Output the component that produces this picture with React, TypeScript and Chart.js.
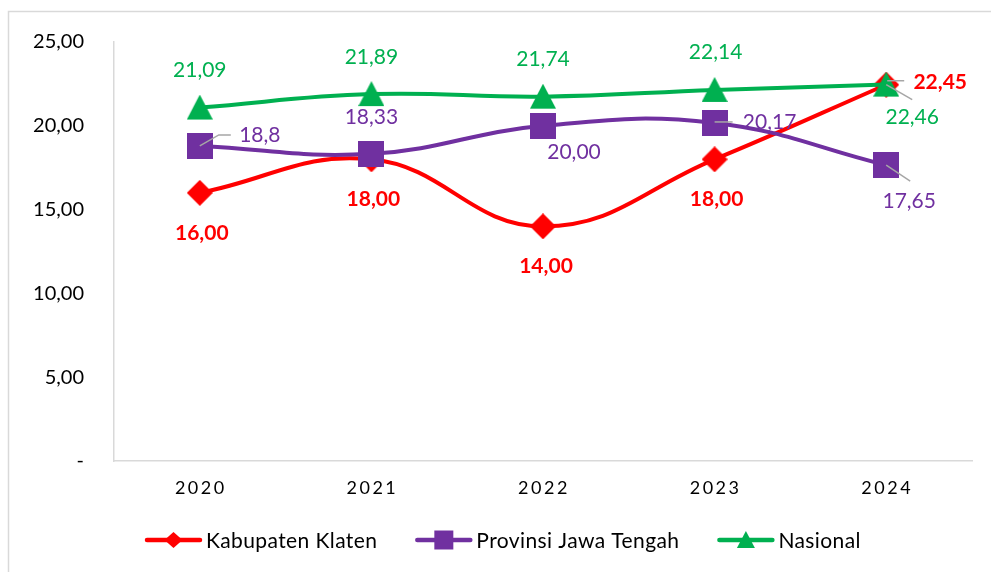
import React, { useEffect, useRef } from 'react';
import { Chart, registerables } from 'chart.js';
Chart.register(...registerables);

// ---------- data ----------
const categories = ['2020', '2021', '2022', '2023', '2024'];
const klaten = [16.0, 18.0, 14.0, 18.0, 22.45];
const jateng = [18.8, 18.33, 20.0, 20.17, 17.65];
const nasional = [21.09, 21.89, 21.74, 22.14, 22.46];
const klatenLabels = ['16,00', '18,00', '14,00', '18,00', '22,45'];
const jatengLabels = ['18,8', '18,33', '20,00', '20,17', '17,65'];
const nasionalLabels = ['21,09', '21,89', '21,74', '22,14', '22,46'];
const yTickLabels = ['-', '5,00', '10,00', '15,00', '20,00', '25,00'];
const seriesNames = ['Kabupaten Klaten', 'Provinsi Jawa Tengah', 'Nasional'];

// ---------- label placement (pixel offsets from each point) ----------
const klatenLabelOffsets = [[2, 40], [2, 40], [3, 40], [2, 40], [54, -3]];
const jatengLabelOffsets = [[60, -11], [0, -37], [31, 26], [55, -1], [23, 36]];
const nasionalLabelOffsets = [[0, -37], [0, -37], [0, -37], [1, -38], [26, 33]];
const klatenLeaders: (number[][] | null)[] = [null, null, null, null, [[1, -4], [18, -4]]];
const jatengLeaders: (number[][] | null)[] = [[[0, 0], [19, -11], [31, -11]], null, null, [[0, -1], [6, -1], [18, -1]], [[0, 0], [24, 16]]];
const nasionalLeaders: (number[][] | null)[] = [null, null, null, null, [[0, 0], [26, 15]]];

const RED = '#FF0000';
const PURPLE = '#7030A0';
const GREEN = '#00B050';
const FONT = 'Lato, "Noto Sans", sans-serif';

function makeMarker(kind: string, color: string, size: number): HTMLCanvasElement {
  const c = document.createElement('canvas');
  c.width = size;
  c.height = size;
  const g = c.getContext('2d')!;
  g.fillStyle = color;
  const m = size / 2;
  g.beginPath();
  if (kind === 'diamond') {
    g.moveTo(m, 0);
    g.lineTo(size, m);
    g.lineTo(m, size);
    g.lineTo(0, m);
  } else if (kind === 'square') {
    g.rect(0, 0, size, size);
  } else {
    g.moveTo(m, 0);
    g.lineTo(size, size - 1);
    g.lineTo(0, size - 1);
  }
  g.closePath();
  g.fill();
  return c;
}

function drawLegendMarker(ctx: CanvasRenderingContext2D, kind: string, color: string, x: number, y: number) {
  ctx.fillStyle = color;
  ctx.beginPath();
  if (kind === 'diamond') {
    ctx.moveTo(x, y - 8);
    ctx.lineTo(x + 9, y);
    ctx.lineTo(x, y + 8);
    ctx.lineTo(x - 9, y);
  } else if (kind === 'square') {
    const r = 9.5;
    ctx.rect(x - r, y - r, 2 * r, 2 * r);
  } else {
    ctx.moveTo(x, y - 9);
    ctx.lineTo(x + 9, y + 8);
    ctx.lineTo(x - 9, y + 8);
  }
  ctx.closePath();
  ctx.fill();
}

const seriesInfo = [
  { kind: 'diamond', color: RED, bold: true, labels: klatenLabels, offsets: klatenLabelOffsets, leaders: klatenLeaders },
  { kind: 'square', color: PURPLE, bold: false, labels: jatengLabels, offsets: jatengLabelOffsets, leaders: jatengLeaders },
  { kind: 'triangle', color: GREEN, bold: false, labels: nasionalLabels, offsets: nasionalLabelOffsets, leaders: nasionalLeaders },
];

const customPlugin = {
  id: 'customDraw',
  beforeDraw(chart: any) {
    const ctx = chart.ctx as CanvasRenderingContext2D;
    ctx.save();
    ctx.fillStyle = '#ffffff';
    ctx.fillRect(0, 0, chart.width, chart.height);
    ctx.strokeStyle = '#d9d9d9';
    ctx.lineWidth = 1.5;
    ctx.beginPath();
    ctx.moveTo(8.5, chart.height + 2);
    ctx.lineTo(8.5, 11.5);
    ctx.lineTo(chart.width + 2, 11.5);
    ctx.stroke();
    ctx.restore();
  },
  afterDatasetsDraw(chart: any) {
    const ctx = chart.ctx as CanvasRenderingContext2D;
    ctx.save();
    // leader lines
    ctx.strokeStyle = '#A6A6A6';
    ctx.lineWidth = 1.5;
    seriesInfo.forEach((s, di) => {
      const meta = chart.getDatasetMeta(di);
      meta.data.forEach((pt: any, i: number) => {
        const L = s.leaders[i];
        if (!L) return;
        ctx.beginPath();
        L.forEach((p, k) => {
          if (k === 0) ctx.moveTo(pt.x + p[0], pt.y + p[1]);
          else ctx.lineTo(pt.x + p[0], pt.y + p[1]);
        });
        ctx.stroke();
      });
    });
    // labels
    ctx.textAlign = 'center';
    ctx.textBaseline = 'middle';
    seriesInfo.forEach((s, di) => {
      const meta = chart.getDatasetMeta(di);
      ctx.fillStyle = s.color;
      ctx.font = `${s.bold ? 'bold ' : ''}21px ${FONT}`;
      meta.data.forEach((pt: any, i: number) => {
        const o = s.offsets[i];
        ctx.fillText(s.labels[i], pt.x + o[0], pt.y + o[1]);
      });
    });
    ctx.restore();
  },
  afterDraw(chart: any) {
    const ctx = chart.ctx as CanvasRenderingContext2D;
    const xs = chart.scales.x;
    ctx.save();
    // x tick labels (spaced)
    ctx.fillStyle = '#000000';
    ctx.font = `18px ${FONT}`;
    (ctx as any).letterSpacing = '2.5px';
    ctx.textAlign = 'center';
    ctx.textBaseline = 'middle';
    categories.forEach((c, i) => {
      ctx.fillText(c, xs.getPixelForValue(i) + 1, 488);
    });
    // legend
    const ly = 540;
    let x = 147;
    ctx.font = `21px ${FONT}`;
    (ctx as any).letterSpacing = '0.4px';
    ctx.textAlign = 'left';
    seriesInfo.forEach((s, i) => {
      ctx.strokeStyle = s.color;
      ctx.lineWidth = 4.5;
      ctx.lineCap = 'round';
      ctx.beginPath();
      ctx.moveTo(x, ly);
      ctx.lineTo(x + 53, ly);
      ctx.stroke();
      drawLegendMarker(ctx, s.kind, s.color, x + 26.5, ly);
      ctx.fillStyle = '#000000';
      ctx.fillText(seriesNames[i], x + 59, ly + 1);
      x += 59 + ctx.measureText(seriesNames[i]).width + 40;
    });
    (ctx as any).letterSpacing = '0px';
    ctx.restore();
  },
};

export default function App() {
  const ref = useRef<HTMLCanvasElement | null>(null);
  useEffect(() => {
    if (!ref.current) return;
    const markers = [
      makeMarker('diamond', RED, 26),
      makeMarker('square', PURPLE, 26),
      makeMarker('triangle', GREEN, 26),
    ];
    const mk = (label: string, data: number[], color: string, marker: HTMLCanvasElement, order: number) => ({
      label,
      data,
      borderColor: color,
      backgroundColor: color,
      borderWidth: 4,
      tension: 0.42,
      pointStyle: marker,
      pointRadius: 12,
      pointHoverRadius: 12,
      order,
      clip: false as any,
    });
    const chart = new Chart(ref.current, {
      type: 'line',
      data: {
        labels: categories,
        datasets: [
          mk(seriesNames[0], klaten, RED, markers[0], 3),
          mk(seriesNames[1], jateng, PURPLE, markers[1], 2),
          mk(seriesNames[2], nasional, GREEN, markers[2], 1),
        ],
      },
      options: {
        responsive: false,
        animation: false,
        events: [],
        layout: { padding: { top: 40, right: 19, left: 0, bottom: 0 } },
        plugins: {
          legend: { display: false },
          tooltip: { enabled: false },
        },
        scales: {
          x: {
            type: 'category',
            offset: true,
            grid: { display: false, drawTicks: false },
            border: { display: true, color: '#D9D9D9', width: 1.5 },
            ticks: { display: false },
            afterFit: (s: any) => { s.height = 111; },
          },
          y: {
            min: 0,
            max: 25,
            grid: { display: false, drawTicks: false },
            border: { display: true, color: '#D9D9D9', width: 1.5 },
            ticks: {
              stepSize: 5,
              padding: 30,
              color: '#000000',
              font: { family: FONT, size: 20 },
              callback: (v: any) => yTickLabels[Math.round(Number(v) / 5)],
            },
            afterFit: (s: any) => { s.width = 114; },
          },
        },
      },
      plugins: [customPlugin],
    });
    return () => chart.destroy();
  }, []);
  return (
    <div style={{ position: 'absolute', left: 0, top: 0, width: 991, height: 572, background: '#fff' }}>
      <canvas ref={ref} width={991} height={572} style={{ display: 'block', width: 991, height: 572 }} />
    </div>
  );
}
